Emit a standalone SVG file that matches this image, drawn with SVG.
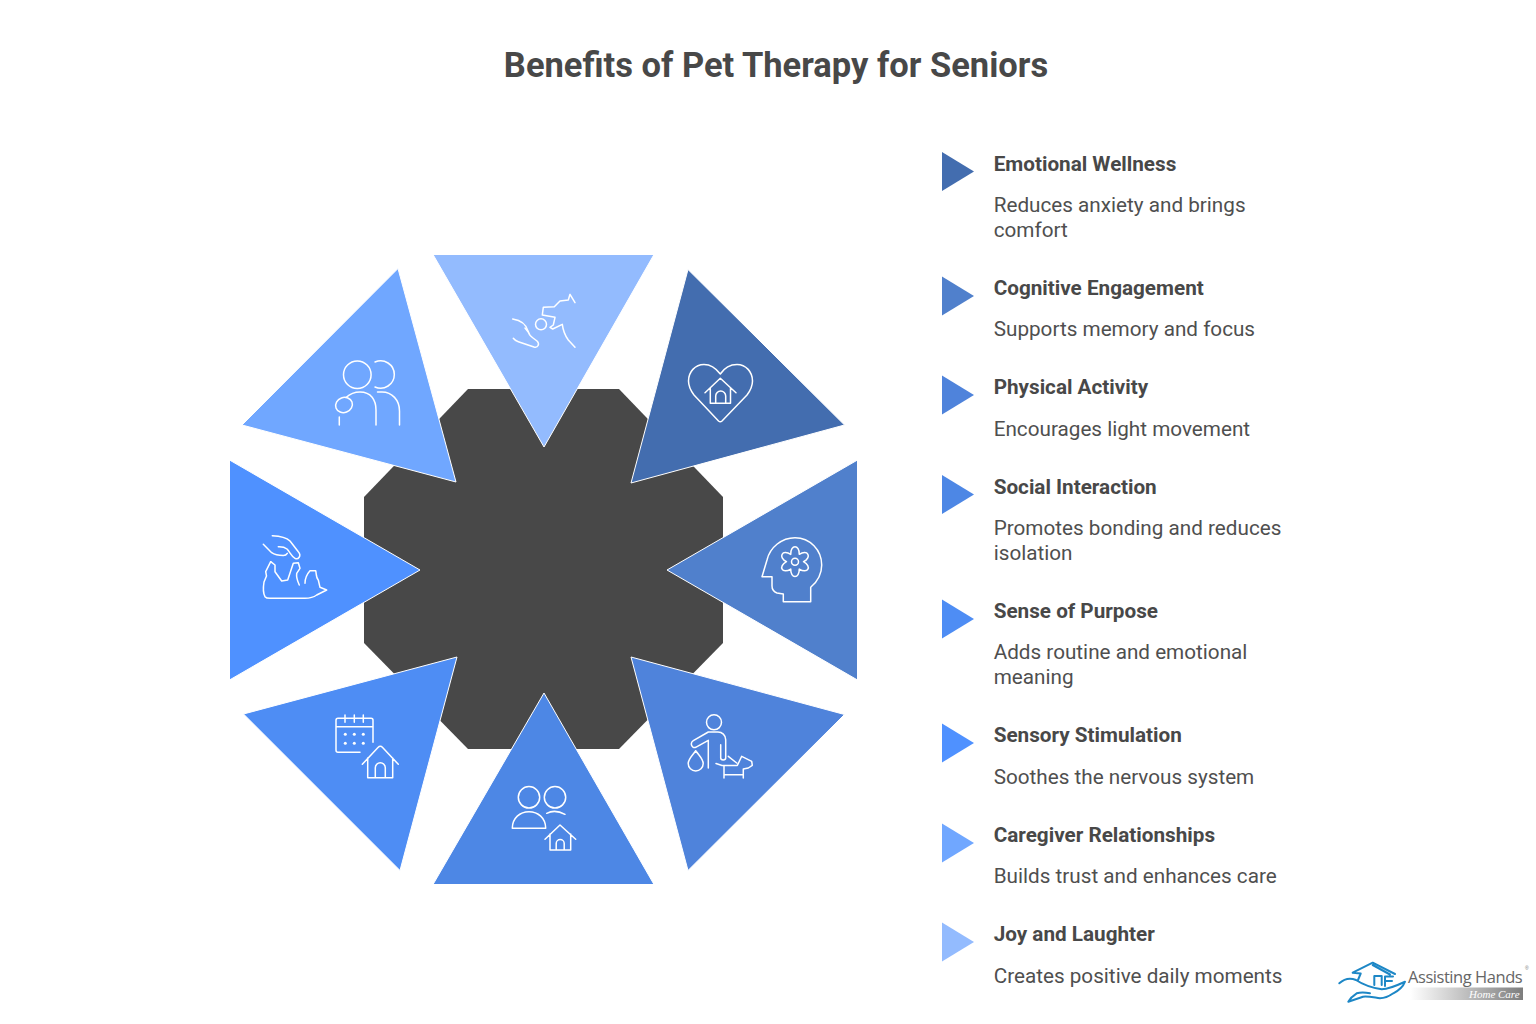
<svg xmlns="http://www.w3.org/2000/svg" width="1536" height="1024" viewBox="0 0 1536 1024">
<style>
text{font-family:Roboto,"Liberation Sans",sans-serif;fill:#484848}
.title{font-size:34.500px;font-weight:700;text-anchor:middle}
.h{font-size:20.700px;font-weight:700}
.d{font-size:20.700px;fill:#4f4f4f}
.tri{stroke:#fff;stroke-width:1;stroke-linejoin:miter}
.ic{fill:none;stroke:#fff;stroke-width:1.500;stroke-linecap:round;stroke-linejoin:round}
.dot{fill:#fff}
.lg{fill:none;stroke:#1d87c6;stroke-width:2;stroke-linecap:round;stroke-linejoin:round}
</style>
<defs>
<linearGradient id="bar"><stop offset="0" stop-color="#fff"/><stop offset="1" stop-color="#7d7d7d"/></linearGradient>
<polygon id="mk" points="0,-19.500 32,0 0,19.500"/>
</defs>
<rect width="1536" height="1024" fill="#fff"/>
<text class="title" x="776" y="76.500">Benefits of Pet Therapy for Seniors</text>

<g id="hub"><polygon fill="#484848" points="468,389 619,389 723,497 723,643 619,749 468,749 364,643 364,497"/></g>

<g id="node-joy">
<polygon class="tri" fill="#93BBFE" points="433,254.500 654,254.500 544,447"/>
<path class="ic" d="M512.7,319C520,320 526,323 528.3,331.7C529,335 530,336 533,338L537,341C540,344 538,348 534,347L518.3,341.7C516,341 514.500,340 513.3,338.3"/>
<path class="ic" d="M528,331.7L525,328"/>
<circle class="ic" cx="541" cy="324.3" r="5.500"/>
<path class="ic" d="M575,302.7L570,294.3L568.3,300L560,301L554.3,306.7L543.3,307.3L542.3,315L555,317.3L553.3,325L550,327.3L552.7,329L562.3,324.3C563,330 564,334 568.3,340L575,347.3"/>
</g>
<g id="node-emotional">
<polygon class="tri" fill="#436DAF" points="688,269.500 844.500,425 631,483"/>
<path class="ic" d="M720.3,374C715,367 710,364.500 704,364.500C695,364.500 688.500,372 688.500,381C688.500,387 691,391 694,395L718.500,421Q720.3,422.500 722,421L747,395C750,391 752.500,387 752.500,381C752.500,372 746,364.500 737,364.500C731,364.500 725,367 720.3,374Z"/>
<path class="ic" d="M705,392.7L720.3,378.3L736,392.7M710.3,388V403.3H730.500V388M715.7,403.3V396a5,5 0 0 1 10,0V403.3"/>
</g>
<g id="node-cognitive">
<polygon class="tri" fill="#5080CC" points="857.500,460 857.500,680 667,570"/>
<path class="ic" d="M762,576.7L767,560C770,547 782,537.7 795,537.7C810,537.7 821.7,550 821.7,565C821.7,574 817,582 810.7,587.3V601.7H783.3V594L777,593Q772,591 772,586V576.7Z"/>
<path class="ic" d="M790.75,554.34C790.34,544.31 799.66,544.31 799.25,554.34C807.73,548.97 812.39,557.04 803.5,561.7C812.39,566.36 807.73,574.43 799.25,569.06C799.66,579.09 790.34,579.09 790.75,569.06C782.27,574.43 777.61,566.36 786.5,561.7C777.61,557.04 782.27,548.97 790.75,554.34Z"/>
<circle class="ic" cx="795" cy="561.7" r="3.500"/>
</g>
<g id="node-physical">
<polygon class="tri" fill="#4F83DB" points="631,657 844.500,714.500 688,870.500"/>
<circle class="ic" cx="714" cy="722.3" r="7.500"/>
<path class="ic" d="M708.3,768V740.3L695.7,747.3C692,749 689.500,743 693.3,740.7L708.3,732H718C722,732 725.7,735 725.7,739.7V758C725.7,760.500 720.7,760.500 720.7,758V744.7"/>
<path class="ic" d="M695.7,750.7C692,756 688.2,759 688.2,763.500A7.500,7.500 0 0 0 703.2,763.500C703.2,759 699.500,756 695.7,750.7Z"/>
<path class="ic" d="M728.3,756.3L736.7,763M716,763.500L722,765.500H737.3L741.700,756.300L751.7,761.3L752.3,765.3L748.3,768L743.3,769V778M724,765.500V778M724,774.7H743.3"/>
</g>
<g id="node-social">
<polygon class="tri" fill="#4D87E5" points="544,693 654,884.500 433,884.500"/>
<circle class="ic" cx="529" cy="797.3" r="10.7"/>
<circle class="ic" cx="555" cy="797.3" r="10.7"/>
<path class="ic" d="M512.3,828.3C512.3,818 520,811.7 529,811.7C538,811.7 545.7,818 545.7,828.3Z"/>
<path class="ic" d="M546.7,813.3Q555,809 565,814.3"/>
<path class="ic" d="M545,839.3L560,825L575.7,839.3M550,834V850H570.7V834M556.2,850V843.500a4,4 0 0 1 8,0V850"/>
</g>
<g id="node-purpose">
<polygon class="tri" fill="#4E8DF4" points="457,657 400,870.500 243.500,714"/>
<path class="ic" d="M360,752.3H338Q336,752.3 336,750.3V720.3Q336,718.3 338,718.3H371Q373,718.3 373,720.3V742.3M336,726.7H373M345,715V722.3M354.3,715V722.3M363.3,715V722.3"/>
<circle class="dot" cx="345.3" cy="734.3" r="1.500"/><circle class="dot" cx="354.3" cy="734.3" r="1.500"/><circle class="dot" cx="363.3" cy="734.3" r="1.500"/>
<circle class="dot" cx="345.3" cy="743.3" r="1.500"/><circle class="dot" cx="354.3" cy="743.3" r="1.500"/><circle class="dot" cx="363.3" cy="743.3" r="1.500"/>
<path class="ic" d="M362.3,764.3L378,747.500Q380.3,745 382.6,747.500L398.3,764.3M367.7,758V777.7H392.7V758M375.3,777.7V767.7a5,5 0 0 1 10,0V777.7"/>
</g>
<g id="node-sensory">
<polygon class="tri" fill="#4F91FF" points="229.500,460 420,570 229.500,680"/>
<path class="ic" d="M272.3,535.7C280,536 286,537 290,541L298.3,551.7C302,556 298,560 295,558.3C291,556 290,552 287,549C284,546.500 282,546.7 278.3,546.7"/>
<path class="ic" d="M263.3,544.3L271.7,552.7C275,555 280,555.500 283.3,555.500Q286,555.500 287.3,553.3"/>
<path class="ic" d="M270.7,561.7L265.7,571.7L266.500,576L264,582C263,588 263,593 265,596.7C266,598 268,598.3 270,598.3H305C310,598.3 314,597 316.7,595L326.7,590L320,587.3L318.3,580C316,578 316.500,574 315.7,570.7H310C307,574 305,578 305,583.3"/>
<path class="ic" d="M270.7,561.7L275,565L275,571.7L281.7,581L287.7,580L293.3,563.3L298.3,562.7L300,568.3L296.7,573.3C296,578 298,582 299.3,585"/>
</g>
<g id="node-caregiver">
<polygon class="tri" fill="#70A7FF" points="398,268.500 456,482 242,425"/>
<circle class="ic" cx="357.3" cy="374.7" r="13.8"/>
<path class="ic" d="M375,362A13.7,13.7 0 1 1 375,387"/>
<ellipse class="ic" cx="344" cy="405" rx="8.500" ry="7.500" transform="rotate(-20 344 405)"/>
<path class="ic" d="M346,397.500Q352,392 360,392C371,392 376,400 376,410V425M377.500,392H382C392,392 399.500,400 399.500,411V425M339.3,417V425"/>
</g>

<g id="item-emotional"><use href="#mk" x="942" y="171.500" fill="#436DAF"/>
<text class="h" x="993.700" y="170.500">Emotional Wellness</text>
<text class="d" x="993.700" y="212">Reduces anxiety and brings</text>
<text class="d" x="993.700" y="237">comfort</text></g>
<g id="item-cognitive"><use href="#mk" x="942" y="296" fill="#5080CC"/>
<text class="h" x="993.700" y="294.500">Cognitive Engagement</text>
<text class="d" x="993.700" y="336">Supports memory and focus</text></g>
<g id="item-physical"><use href="#mk" x="942" y="395" fill="#4F83DB"/>
<text class="h" x="993.700" y="394">Physical Activity</text>
<text class="d" x="993.700" y="435.500">Encourages light movement</text></g>
<g id="item-social"><use href="#mk" x="942" y="494.500" fill="#4D87E5"/>
<text class="h" x="993.700" y="493.500">Social Interaction</text>
<text class="d" x="993.700" y="535">Promotes bonding and reduces</text>
<text class="d" x="993.700" y="560">isolation</text></g>
<g id="item-purpose"><use href="#mk" x="942" y="619" fill="#4E8DF4"/>
<text class="h" x="993.700" y="617.500">Sense of Purpose</text>
<text class="d" x="993.700" y="659">Adds routine and emotional</text>
<text class="d" x="993.700" y="684">meaning</text></g>
<g id="item-sensory"><use href="#mk" x="942" y="743" fill="#4F91FF"/>
<text class="h" x="993.700" y="742">Sensory Stimulation</text>
<text class="d" x="993.700" y="783.500">Soothes the nervous system</text></g>
<g id="item-caregiver"><use href="#mk" x="942" y="843" fill="#70A7FF"/>
<text class="h" x="993.700" y="841.500">Caregiver Relationships</text>
<text class="d" x="993.700" y="883">Builds trust and enhances care</text></g>
<g id="item-joy"><use href="#mk" x="942" y="942" fill="#93BBFE"/>
<text class="h" x="993.700" y="941">Joy and Laughter</text>
<text class="d" x="993.700" y="982.500">Creates positive daily moments</text></g>

<g id="logo">
<path class="lg" d="M1352.7,972.700L1372.700,962.700L1395,974M1372.700,965L1390,974.500M1352.700,972.700L1360.700,973.500L1358,980M1374.300,985V976H1381.700V985M1393,976.500H1385V986M1385,981H1392"/>
<path class="lg" d="M1339.300,983.300C1344,979 1350,977.500 1356,980C1362,984 1370,987.500 1381.700,989.300C1390,989 1398,985 1405,981.700C1403,987 1398,991 1393.300,993.300C1388,997 1384,998.300 1380,998.300C1374,997.500 1368,996 1363,996.700L1348.300,1001.700C1351,997 1354,995 1356.700,993.300C1361,992 1366,992.500 1370,993.300"/>
<text x="1408" y="982.500" font-size="16.500" letter-spacing="-0.450" style="font-family:'Open Sans','Liberation Sans',sans-serif;fill:#666">Assisting Hands</text>
<text x="1525" y="970" font-size="5" style="font-family:'Liberation Sans',sans-serif;fill:#777">®</text>
<rect x="1410" y="987.500" width="113" height="12.500" fill="url(#bar)"/>
<text x="1469" y="997.700" font-size="11" font-style="italic" style="font-family:'Liberation Serif',serif;fill:#fff">Home Care</text>
</g>
</svg>
